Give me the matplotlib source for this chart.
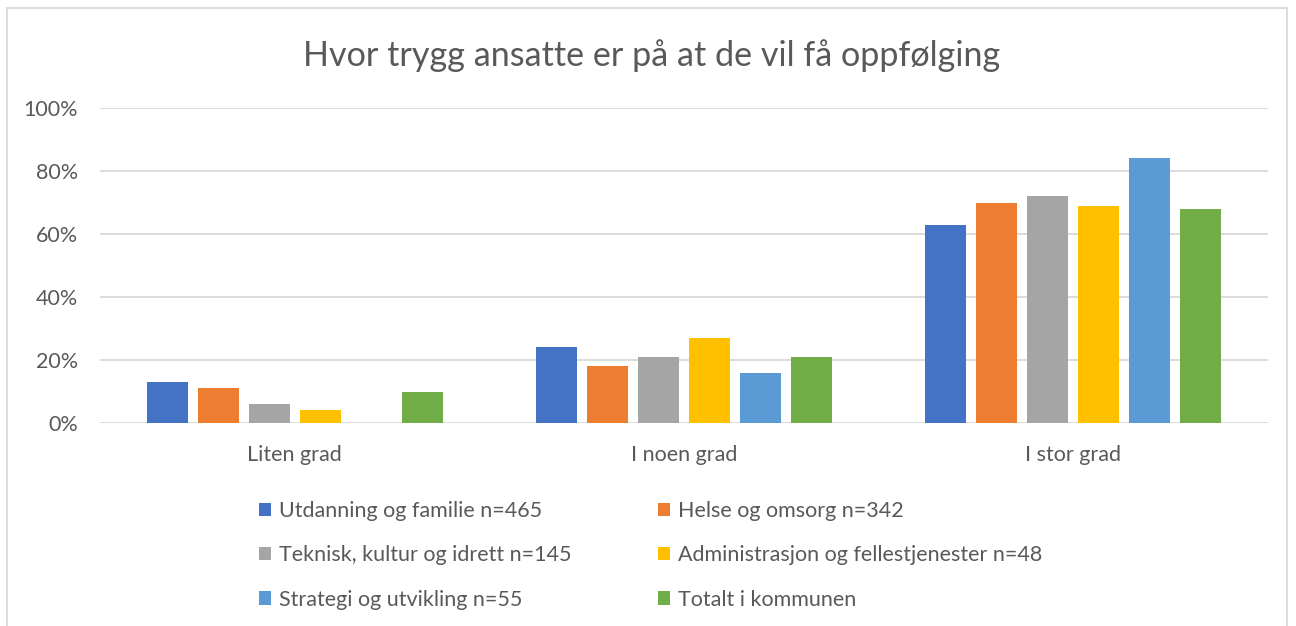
import matplotlib
matplotlib.use('Agg')
import matplotlib.pyplot as plt
from matplotlib.patches import Rectangle, Patch
import numpy as np

categories = ['Liten grad', 'I noen grad', 'I stor grad']
series_names = ['Utdanning og familie n=465', 'Helse og omsorg n=342',
                'Teknisk, kultur og idrett n=145', 'Administrasjon og fellestjenester n=48',
                'Strategi og utvikling n=55', 'Totalt i kommunen']
utdanning = [0.13, 0.24, 0.63]
helse = [0.11, 0.18, 0.70]
teknisk = [0.06, 0.21, 0.72]
administrasjon = [0.04, 0.27, 0.69]
strategi = [0.00, 0.16, 0.84]
totalt = [0.10, 0.21, 0.68]
colors = ['#4472C4', '#ED7D31', '#A5A5A5', '#FFC000', '#5B9BD5', '#70AD47']

plt.rcParams['font.family'] = ['Lato', 'DejaVu Sans']
text_color = '#595959'

fig = plt.figure(figsize=(12.96, 6.26), dpi=100)
fig.patches.append(Rectangle((7 / 1296, -0.1), 1280 / 1296, 1.1 - 8 / 626, transform=fig.transFigure,
                             fill=False, edgecolor='#D9D9D9', linewidth=1.3))
ax = fig.add_axes([100 / 1296, 203 / 626, 1168 / 1296, 315 / 626])

all_series = [utdanning, helse, teknisk, administrasjon, strategi, totalt]
x = np.arange(len(categories))
step = 51 / 389
width = 41 / 389
for i, vals in enumerate(all_series):
    ax.bar(x + (i - 2.5) * step, vals, width, color=colors[i], zorder=3)

ax.set_xlim(-0.5, 2.5)
ax.set_ylim(0, 1)
ax.set_yticks(np.arange(0, 1.01, 0.2))
ax.set_yticklabels(['%d%%' % round(v * 100) for v in np.arange(0, 1.01, 0.2)])
ax.set_xticks(x)
ax.set_xticklabels(categories)
ax.yaxis.grid(True, color='#D9D9D9', linewidth=1.3, zorder=0)
for s in ax.spines.values():
    s.set_visible(False)
ax.tick_params(axis='both', length=0, labelsize=15.5, colors=text_color)
ax.tick_params(axis='y', pad=16)
ax.tick_params(axis='x', pad=16)

fig.text(652 / 1296, 1 - 56 / 626, 'Hvor trygg ansatte er på at de vil få oppfølging',
         ha='center', va='center', fontsize=24.6, color=text_color)

handles = [Patch(facecolor=c) for c in colors]
order = [0, 2, 4, 1, 3, 5]
leg = fig.legend([handles[i] for i in order], [series_names[i] for i in order],
                 ncol=2, loc='upper left', bbox_to_anchor=(240 / 1296, 1 - 482 / 626),
                 frameon=False, fontsize=15.5, handlelength=0.56, handleheight=0.56,
                 handletextpad=0.37, columnspacing=4.0, labelspacing=1.12, labelcolor=text_color)

fig.savefig('out.png', dpi=100)
